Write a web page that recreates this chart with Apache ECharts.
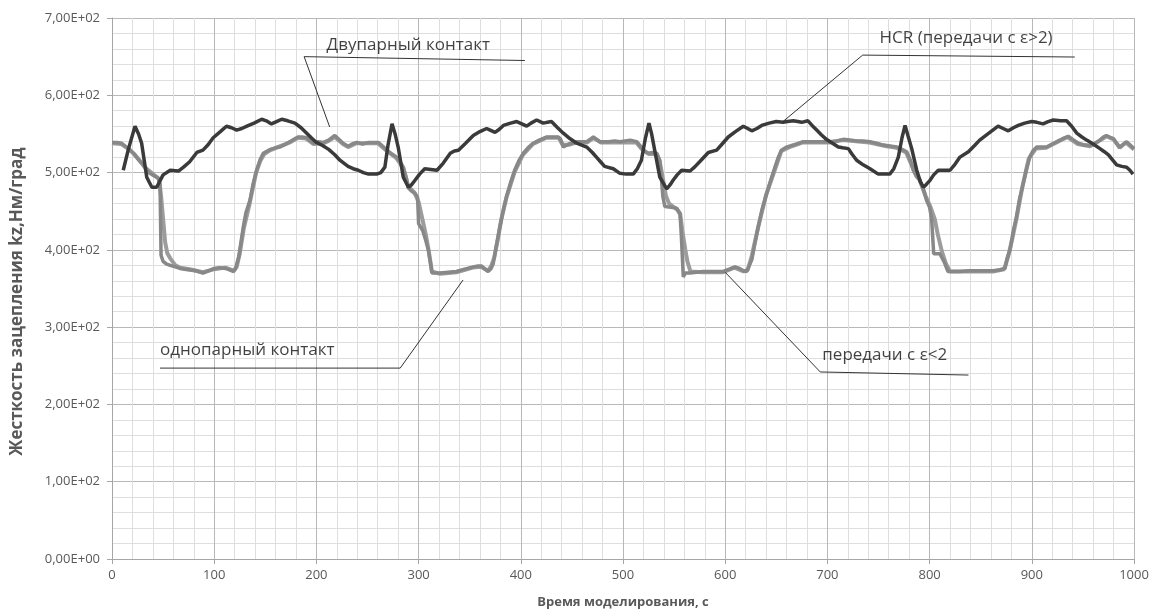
<!DOCTYPE html>
<html><head><meta charset="utf-8">
<script src="https://cdn.jsdelivr.net/npm/echarts@6/dist/echarts.min.js"></script>
<style>html,body{margin:0;padding:0;background:#fff}#c{width:1149px;height:609px}</style>
</head><body><div id="c"></div>
<script>
// ---- data ----
const xTicks = [0,100,200,300,400,500,600,700,800,900,1000];
const yTicks = [0,100,200,300,400,500,600,700];
const yAxisTitle = 'Жесткость зацепления kz,Нм/град';
const xAxisTitle = 'Время моделирования, с';

const hcr = [[11,503],[16,530],[22.5,560],[26,550],[29,538],[34,494],[39,481],[43.7,481],[50,497],[57,503],[65,502],[70,507],[76,514],[83,526],[89,529],[94,536],[99,545],[106,553],[112,560],[117,558],[122,555],[127,557],[132,560],[139,564],[146.5,569],[151,567],[156,563],[161,566],[166,569],[172,567],[179,564],[185,558],[190.5,551],[195,545],[200,539],[206,535],[212,530],[218,523],[223,516],[231,508],[236,505],[241,503],[246,500],[251,498],[255,498],[259,498],[263,500],[267,507],[270,535],[274,563],[277,550],[280,533],[285,494],[290,481],[293,484],[296.5,490],[301,498],[306,505],[312,504],[318,503],[324,512],[331,525],[335,528],[339,529],[346,538],[353.5,548],[360,553],[366.6,557],[370,555],[374.8,552],[379,556],[383,561],[390,564],[396,566],[401,563],[405.8,560],[410,564],[415.5,568],[422,564],[426,565],[430,566],[436,558],[441.6,551],[448,544],[454.7,538],[464.5,533],[470,526],[474,520],[478,514],[482,508],[490.5,505],[497,499],[503,498],[510,498],[514,505],[518,516],[522,545],[525.4,564],[528,550],[531,529],[536,494],[542.7,479],[546,484],[549,490],[553,497],[557.4,503],[565.6,502],[570,507],[575,514],[583.5,526],[591.7,529],[597,537],[603,546],[610,553],[617.7,560],[622,557],[626,554],[631,557],[635.7,561],[643,564],[650,566],[656.6,565],[661,566],[666.6,567],[671,566],[674.8,565],[681,567],[685,561],[689.5,555],[694,549],[699,543],[705,538],[710.7,533],[715,532],[720.5,531],[724,524],[728.6,516],[735,510],[741.7,505],[749.8,498],[755,498],[761,498],[765,505],[769.4,520],[773,545],[776,561],[779,547],[782.5,531],[787.4,503],[791,488],[794,481],[797,485],[800.4,490],[804,497],[808.5,503],[814,503],[820,503],[825,511],[829.7,520],[838,527],[844,535],[849,542],[858,551],[867,560],[872,557],[877,554],[882,558],[886.8,561],[893,564],[899.9,566],[905,565],[911,563],[916,566],[921,568],[928,567],[934,567],[939,560],[944,551],[949,546],[953.7,542],[960,537],[966.7,531],[971,527],[975,523],[983,510],[988,508],[992.8,507],[996,503],[999,498]];

const eps1 = [[0,539],[5,539],[9.5,538],[13,534],[17.6,529],[22,524],[25,518],[29,512],[33,505],[37,499],[41,496],[45,493],[47,485],[48,393],[50,385],[53,382],[57,380],[62,378],[66.5,376],[71,375],[76,374],[82,373],[89,370],[95,373],[100,376],[105,377],[111,376],[115,374],[119,372],[121,376],[124,391],[128.5,430],[131,448],[135,464],[138,485],[141.5,503],[145,517],[148,525],[155,530],[160,532],[164,533],[169,536],[174,540],[178,543],[182,546],[186,546],[190.5,545],[194,541],[197,538],[202,540],[207,539],[212,542],[218,548],[222,543],[226,538],[231,534],[235,537],[239.5,539],[245,537],[251,539],[256,539],[260.6,539],[265,534],[269,529],[274,524],[278.5,520],[282,514],[285,507],[288,493],[290,480],[293,476],[296.5,473],[299,468],[300,434],[304,425],[307,412],[309.5,400],[312,380],[313,370],[317,370],[321,370],[329,371],[337,372],[345,375],[353.5,378],[358,379],[361.7,379],[365,375],[368,372],[371,376],[373,382],[376,405],[379.6,430],[383,452],[386,469],[390,487],[394,503],[398,515],[402.5,525],[407,532],[412,538],[418,542],[425,546],[431,546],[436.7,546],[439,543],[441.6,533],[447,537],[454.7,540],[460,540],[464.5,540],[468,543],[471,546],[474,543],[477.5,540],[485.6,540],[492,541],[497,540],[502,541],[507,542],[513.4,540],[518,533],[521,528],[524.8,525],[529,526],[533,525],[536,516],[539,469],[541,456],[547,455],[552.5,454],[555.8,447],[557,420],[559,365],[561,370],[565.6,370],[572,371],[578,372],[585,372],[592,372],[598,372],[604,375],[609.6,378],[614,376],[618,373],[621,372],[623,378],[626,387],[629,408],[632.4,430],[636,452],[640.6,473],[645,492],[648.7,507],[652,520],[655,529],[660,533],[665,535],[670,537],[676.4,540],[683,540],[689.5,540],[696,540],[702.5,540],[709,541],[715.6,543],[722,542],[728.6,541],[735,541],[741.7,540],[748,538],[753,536],[758,535],[763,534],[768,533],[773,530],[777.6,527],[781,517],[784,503],[787,495],[790.6,490],[794,478],[797,464],[800,455],[802,440],[804,395],[807,395],[810,395],[814,385],[818,372],[823,372],[829.7,372],[838,373],[846,373],[854,373],[862,373],[868,374],[873.8,376],[876,390],[878.7,400],[882,425],[885,443],[888,466],[891.7,486],[895,505],[898,520],[901,528],[904.8,533],[910,533],[914.6,533],[920,537],[927.6,542],[932,545],[935.7,547],[940,543],[945.5,538],[950,536],[957,535],[962,538],[966.7,542],[970,546],[973,548],[976,546],[979.8,544],[983,538],[986,533],[990,537],[992.8,540],[996,536],[1000,531]];

const eps2 = [[0,538],[9,537],[17,530],[25,519],[33,506],[41,497],[46,492],[48,470],[50,440],[52,410],[54,396],[57,389],[62,380],[66.5,377],[76,375],[89,371],[100,375],[111,377],[119,373],[122,378],[125,395],[129,428],[135,462],[141,500],[145,515],[149,524],[155,529],[164,534],[174,539],[182,545],[190,544],[197,537],[207,538],[212,541],[218,546],[226,537],[231,533],[239,538],[251,538],[260,538],[269,528],[278,519],[285,506],[290,482],[296,474],[300,462],[304,438],[307,420],[310,398],[313,372],[321,369],[337,371],[353,377],[361,378],[368,373],[371,379],[374,390],[377,410],[381,440],[386,468],[394,501],[402,523],[412,537],[425,545],[437,545],[441,536],[447,536],[455,539],[465,539],[471,545],[478,539],[497,539],[513,539],[518,531],[525,524],[533,524],[536,514],[540,485],[542,470],[545,460],[553,452],[556,446],[558,425],[561,400],[563,385],[566,372],[578,371],[598,371],[609,377],[618,372],[622,374],[626,392],[632,428],[640,471],[649,505],[655,528],[665,534],[676,539],[702,539],[715,542],[741,539],[758,534],[768,532],[777,526],[784,505],[790,491],[796,470],[801,455],[805,440],[808,420],[812,398],[816,382],[820,372],[838,372],[862,372],[873,375],[877,392],[881,415],[885,440],[891,483],[897,518],[904,531],[914,532],[927,541],[935,546],[945,537],[957,534],[966,541],[973,547],[980,543],[986,532],[992,539],[1000,530]];

// callout annotations (data coordinates)
const calloutTexts = ['Двупарный контакт','HCR (передачи с ε>2)','однопарный контакт','передачи с ε<2'];
const calloutTextPos = [[210,665],[751,674],[47,270],[695,264]];
const calloutLines = [
  [[213,559],[188,650],[404,645]],
  [[655.6,565],[734.5,652],[942,649.5]],
  [[47,247],[282,247],[343.5,361]],
  [[600,371],[693,242],[838,238]]
];

// ---- chart ----
const chart = echarts.init(document.getElementById('c'));
const fmtY = v => v === 0 ? '0,00E+00' : (v/100).toFixed(2).replace('.', ',') + 'E+02';
const series = [
  {type:'line', data: eps2, showSymbol:false, lineStyle:{color:'#9c9c9c', width:4}, z:2},
  {type:'line', data: eps1, showSymbol:false, lineStyle:{color:'#888888', width:3.5}, z:3},
  {type:'line', data: hcr, showSymbol:false, lineStyle:{color:'#3a3a3a', width:3.5}, z:4}
];
calloutLines.forEach(l => series.push({type:'line', data:l, showSymbol:false, silent:true, lineStyle:{color:'#333', width:1}, z:5}));
series.push({
  type:'scatter', symbolSize:0, silent:true, z:6,
  data: calloutTextPos.map((p,i)=>({value:p, name:calloutTexts[i]})),
  label:{show:true, position:'right', distance:0, formatter: p=>p.name, color:'#111', fontSize:17, fontFamily:'Open Sans'}
});

chart.setOption({
  animation:false,
  backgroundColor:'#fff',
  grid:{left:112, right:15, top:18, bottom:50, outerBoundsMode:'none', containLabel:false},
  xAxis:{
    type:'value', min:0, max:1000, interval:100,
    name: xAxisTitle, nameLocation:'middle', nameGap:37,
    nameTextStyle:{fontWeight:'bold', fontSize:13, color:'#595959', fontFamily:'Open Sans'},
    axisLine:{show:true, lineStyle:{color:'#a6a6a6'}},
    axisTick:{show:true, length:5, lineStyle:{color:'#a6a6a6'}},
    axisLabel:{color:'#595959', fontSize:13, fontFamily:'Open Sans', margin:10, formatter: v => String(v)},
    splitLine:{show:true, lineStyle:{color:'#b8b8b8', width:1}},
    minorTick:{show:false, splitNumber:5},
    minorSplitLine:{show:true, lineStyle:{color:'#dedede', width:1}}
  },
  yAxis:{
    type:'value', min:0, max:700, interval:100,
    name: yAxisTitle, nameLocation:'middle', nameGap:86, nameRotate:90,
    nameTextStyle:{fontWeight:'bold', fontSize:17, color:'#595959', fontFamily:'Open Sans', padding:[0,0,0,-26]},
    axisLine:{show:true, lineStyle:{color:'#a6a6a6'}},
    axisTick:{show:true, length:5, lineStyle:{color:'#a6a6a6'}},
    axisLabel:{color:'#595959', fontSize:13, fontFamily:'Open Sans', margin:12, formatter: fmtY},
    splitLine:{show:true, lineStyle:{color:'#b8b8b8', width:1}},
    minorTick:{show:false, splitNumber:5},
    minorSplitLine:{show:true, lineStyle:{color:'#dedede', width:1}}
  },
  series: series
});
</script></body></html>
